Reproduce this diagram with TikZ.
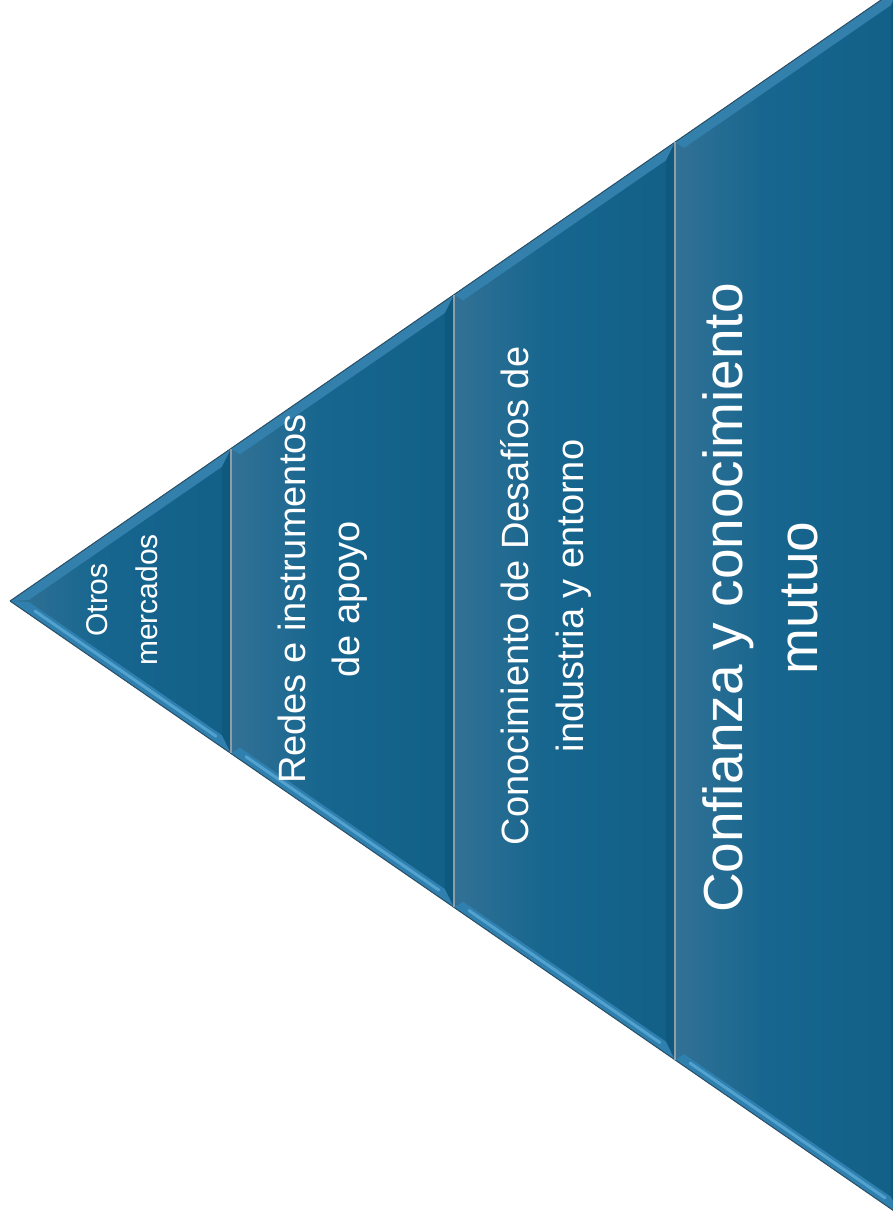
\documentclass[tikz,border=0pt]{standalone}
\usepackage{fontspec}
\setmainfont{Liberation Sans}
\definecolor{segleft}{HTML}{557F9D}
\definecolor{segmid}{HTML}{17668F}
\definecolor{segright}{HTML}{0E5B81}
\definecolor{bevtop}{HTML}{3480AC}
\definecolor{bevbot}{HTML}{2F7FAF}
\definecolor{bevhi}{HTML}{62B2DE}
\definecolor{rimcol}{HTML}{2A4E64}
\definecolor{sepcol}{HTML}{8F9DA7}
\pgfdeclarehorizontalshading{segshade}{100bp}{color(0bp)=(segleft); color(45bp)=(segmid); color(100bp)=(segright)}

\begin{document}
\begin{tikzpicture}[x=1pt,y=-1pt,
  segbody/.style={shading=segshade},
  bevtop/.style={fill=bevtop},
  bevbot/.style={fill=bevbot},
  bevhi/.style={draw=bevhi, line width=3pt, opacity=0.7, line cap=round},
  bevright/.style={fill=segright!85!black, opacity=0.35},
  rim/.style={draw=rimcol, line width=1pt},
  sepline/.style={draw=sepcol, line width=1.5pt},
  lbl/.style={text=white, rotate=90, align=center, inner sep=0pt}]
\useasboundingbox (0,0) rectangle (893,1222);
\clip (0,0) rectangle (893,1222);
% slices of the triangle
\foreach \xa/\xb/\il in {10/231/19, 231/454/9, 454/675/9, 675/900/9}{
  \pgfmathsetmacro\ta{601-0.69*(\xa-10)}
  \pgfmathsetmacro\tb{601-0.69*(\xb-10)}
  \pgfmathsetmacro\ba{601+0.69*(\xa-10)}
  \pgfmathsetmacro\bb{601+0.69*(\xb-10)}
  \pgfmathsetmacro\xc{\xa+\il}
  \pgfmathsetmacro\xd{\xb-9}
  \pgfmathsetmacro\tc{601-0.69*(\xc-10)+12}
  \pgfmathsetmacro\td{601-0.69*(\xd-10)+12}
  \pgfmathsetmacro\bc{601+0.69*(\xc-10)-12}
  \pgfmathsetmacro\bd{601+0.69*(\xd-10)-12}
  \pgfmathsetmacro\hc{601+0.69*(\xc-10)-7}
  \pgfmathsetmacro\hd{601+0.69*(\xd-10)-7}
  \shade[segbody] (\xa,\ta) -- (\xb,\tb) -- (\xb,\bb) -- (\xa,\ba) -- cycle;
  \fill[bevtop] (\xa,\ta) -- (\xb,\tb) -- (\xd,\td) -- (\xc,\tc) -- cycle;
  \fill[bevbot] (\xa,\ba) -- (\xb,\bb) -- (\xd,\bd) -- (\xc,\bc) -- cycle;
  \draw[bevhi] (\xc+6,\hc+4) -- (\xd-6,\hd-4);
  \fill[bevright] (\xb,\tb) -- (\xb,\bb) -- (\xd,\bd) -- (\xd,\td) -- cycle;
  \draw[rim] (\xa,\ta) -- (\xb,\tb) (\xa,\ba) -- (\xb,\bb);
}
\foreach \x in {231,454,675}{
  \pgfmathsetmacro\yt{601-0.69*(\x-10)}
  \pgfmathsetmacro\yb{601+0.69*(\x-10)}
  \draw[sepline] (\x,\yt) -- (\x,\yb);
}
% labels
\node[lbl, font=\fontsize{30}{50}\selectfont] (otros) at (122,600) {Otros\\mercados};
\node[lbl, font=\fontsize{38}{54}\selectfont] (redes) at (323,599) {Redes e instrumentos\\de apoyo};
\node[lbl, font=\fontsize{38}{55}\selectfont] (desafios) at (546,596) {Conocimiento de Desafíos de\\industria y entorno};
\node[lbl, font=\fontsize{55}{75}\selectfont] (confianza) at (760,598) {Confianza y conocimiento\\mutuo};
\end{tikzpicture}
\end{document}
